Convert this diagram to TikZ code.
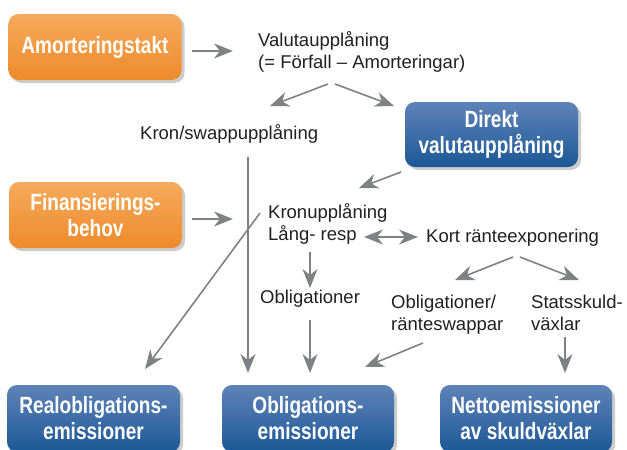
\documentclass[tikz,border=0pt]{standalone}
\usepackage{fontspec}
\setmainfont{Liberation Sans}
\newfontfamily\condfont[FakeStretch=0.81]{Liberation Sans}
\usetikzlibrary{arrows.meta,shadows}
\definecolor{arrgray}{HTML}{808184}
\definecolor{txt}{HTML}{231F20}
\definecolor{orTop}{HTML}{F5AA5C}
\definecolor{orBot}{HTML}{EE8A2B}
\definecolor{blTop}{HTML}{5F83B8}
\definecolor{blMid}{HTML}{2763A1}
\definecolor{blBot}{HTML}{1C5896}
\tikzset{
  boxbase/.style={rounded corners=10pt, minimum width=173pt, minimum height=66pt,
    inner sep=0pt, align=center, text=white,
    font=\condfont\bfseries\fontsize{23.5}{26}\selectfont,
    drop shadow={shadow xshift=3pt, shadow yshift=-3pt, fill=black!25, opacity=0.8}},
  orbox/.style={boxbase, top color=orTop, bottom color=orBot},
  blbox/.style={boxbase, top color=blTop, middle color=blMid, bottom color=blBot},
  lbl/.style={anchor=base west, inner sep=0pt, align=left, text=txt,
    font=\fontsize{18.5}{22}\selectfont},
  arr/.style={draw=arrgray, line width=1.6pt, -{Stealth[length=19pt,width=15pt,inset=6pt]}},
  darr/.style={draw=arrgray, line width=1.6pt,
    {Stealth[length=19pt,width=15pt,inset=6pt]}-{Stealth[length=19pt,width=15pt,inset=6pt]}}
}
\begin{document}
\begin{tikzpicture}[x=1pt,y=-1pt]
\useasboundingbox (0,0) rectangle (627,450);
% boxes
\node[orbox] (amort) at (95,47) {Amorteringstakt};
\node[orbox] (finans) at (95.5,215) {Finansierings-\\behov};
\node[blbox, minimum height=65pt] (direkt) at (491.5,134.5) {Direkt\\valutaupplåning};
\node[blbox, minimum height=67pt, minimum width=173pt] (real) at (93.5,418.5) {Realobligations-\\emissioner};
\node[blbox, minimum height=67pt, minimum width=172pt] (oblem) at (308,418.5) {Obligations-\\emissioner};
\node[blbox, minimum height=67pt, minimum width=172pt] (netto) at (526,418.5) {Nettoemissioner\\av skuldväxlar};
% labels (multi-line nodes are anchored at the baseline of their last line)
\node[lbl] (valuta) at (258,68) {Valutaupplåning\\(= Förfall -- Amorteringar)};
\node[lbl] (kronswap) at (140,139) {Kron/swappupplåning};
\node[lbl] (kronupp) at (268,240) {Kronupplåning\\Lång- resp};
\node[lbl] (kort) at (426,242) {Kort ränteexponering};
\node[lbl] (oblig) at (260,303) {Obligationer};
\node[lbl] (obligswap) at (391,330) {Obligationer/\\ränteswappar};
\node[lbl] (stats) at (531,330) {Statsskuld-\\växlar};
% arrow end points
\coordinate (a1s) at (192,51); \coordinate (a1e) at (233,51);
\coordinate (a2s) at (328,84); \coordinate (a2e) at (270,106);
\coordinate (a3s) at (335,84); \coordinate (a3e) at (394,106);
\coordinate (a4s) at (401,172); \coordinate (a4e) at (359,188);
\coordinate (a5s) at (192,219); \coordinate (a5e) at (233,219);
\coordinate (a6s) at (248,157); \coordinate (a6e) at (248,373);
\coordinate (a7s) at (260,213); \coordinate (a7e) at (145,369);
\coordinate (a8s) at (310,252); \coordinate (a8e) at (310,288);
\coordinate (a9s) at (310,320); \coordinate (a9e) at (310,373);
\coordinate (a10s) at (364,237); \coordinate (a10e) at (418,237);
\coordinate (a11s) at (513,257); \coordinate (a11e) at (455,280);
\coordinate (a12s) at (520,257); \coordinate (a12e) at (579,280);
\coordinate (a13s) at (423,343); \coordinate (a13e) at (365,367);
\coordinate (a14s) at (565,337); \coordinate (a14e) at (565,373);
% arrows
\draw[arr] (a1s) -- (a1e);
\draw[arr] (a2s) -- (a2e);
\draw[arr] (a3s) -- (a3e);
\draw[arr] (a4s) -- (a4e);
\draw[arr] (a5s) -- (a5e);
\draw[arr] (a6s) -- (a6e);
\draw[arr] (a7s) -- (a7e);
\draw[arr] (a8s) -- (a8e);
\draw[arr] (a9s) -- (a9e);
\draw[darr] (a10s) -- (a10e);
\draw[arr] (a11s) -- (a11e);
\draw[arr] (a12s) -- (a12e);
\draw[arr] (a13s) -- (a13e);
\draw[arr] (a14s) -- (a14e);
\end{tikzpicture}
\end{document}
